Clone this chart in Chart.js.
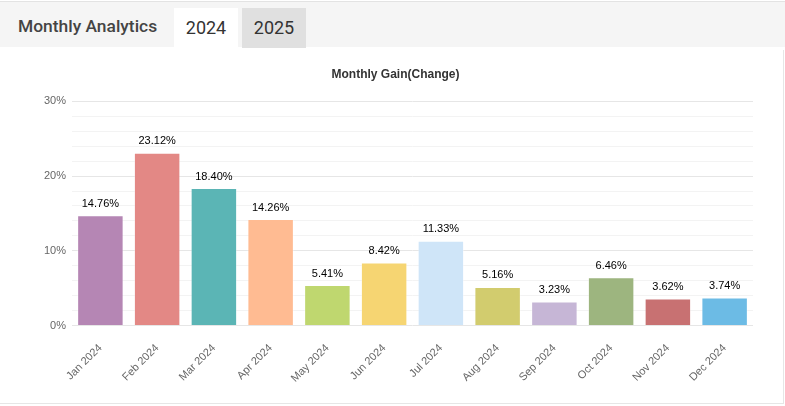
<!DOCTYPE html>
<html>
<head>
<meta charset="utf-8">
<script src="https://cdn.jsdelivr.net/npm/chart.js@4"></script>
<style>
  html, body { margin:0; padding:0; background:#fff; width:785px; height:406px; overflow:hidden; }
  #header { position:absolute; left:0; top:1px; width:785px; height:46px; background:#f5f5f5; border-top:1px solid #e3e3e3; box-sizing:border-box; font-family:Roboto, "Liberation Sans", sans-serif; }
  #title { position:absolute; left:18px; top:14px; font-size:17.4px; color:#444; font-weight:500; }
  .tab { position:absolute; top:6px; height:40px; width:64px; text-align:center; line-height:40px; font-size:18px; color:#333; }
  #t1 { left:174px; background:#fff; }
  #t2 { left:242px; background:#e0e0e0; }
  #box { position:absolute; left:0; top:50px; width:783px; height:353px; border-right:1px solid #e6e6e6; border-bottom:1px solid #e6e6e6; }
  #wrap { position:absolute; left:0; top:0; width:783px; height:353px; }
</style>
</head>
<body>
<div id="header">
  <div id="title">Monthly Analytics</div>
  <div class="tab" id="t1">2024</div>
  <div class="tab" id="t2">2025</div>
</div>
<div id="box"><div id="wrap"><canvas id="c"></canvas></div></div>
<script>
const categories = ["Jan 2024","Feb 2024","Mar 2024","Apr 2024","May 2024","Jun 2024","Jul 2024","Aug 2024","Sep 2024","Oct 2024","Nov 2024","Dec 2024"];
const gainValues = [14.76, 23.12, 18.40, 14.26, 5.41, 8.42, 11.33, 5.16, 3.23, 6.46, 3.62, 3.74];
const barColors = ["#b586b4","#e38885","#5bb5b5","#ffbb92","#bfd76f","#f6d572","#cfe5f8","#d2cc6e","#c6b6d6","#9db57f","#c87172","#6cbbe5"];
const yTickLabels = {0:"0%",10:"10%",20:"20%",30:"30%"};

const valueLabels = {
  id:'valueLabels',
  afterDatasetsDraw(chart){
    const ctx = chart.ctx;
    const meta = chart.getDatasetMeta(0);
    ctx.save();
    ctx.font = '11px "Liberation Sans", Arial, sans-serif';
    ctx.fillStyle = '#000';
    ctx.textAlign = 'center';
    ctx.textBaseline = 'bottom';
    meta.data.forEach((bar,i)=>{
      ctx.fillText(gainValues[i].toFixed(2)+'%', bar.x, bar.y - 6);
    });
    ctx.restore();
  }
};

new Chart(document.getElementById('c'), {
  type:'bar',
  data:{
    labels:categories,
    datasets:[{
      data:gainValues,
      backgroundColor:barColors,
      borderColor:'rgba(255,255,255,0.35)',
      borderWidth:1,
      categoryPercentage:0.9,
      barPercentage:0.91
    }]
  },
  options:{
    responsive:true,
    maintainAspectRatio:false,
    animation:false,
    layout:{padding:{left:38, right:30, top:11, bottom:2}},
    plugins:{
      legend:{display:false},
      tooltip:{enabled:false},
      title:{display:true, text:'Monthly Gain(Change)', color:'#333', font:{family:'"Liberation Sans", Arial, sans-serif', size:12, weight:'bold'}, padding:{top:6, bottom:20}}
    },
    scales:{
      x:{
        grid:{display:false, drawTicks:false},
        border:{display:false},
        ticks:{autoSkip:false, color:'#666', font:{family:'"Liberation Sans", Arial, sans-serif', size:11}, maxRotation:45, minRotation:45, padding:16}
      },
      y:{
        min:0, max:30,
        border:{display:false},
        grid:{drawTicks:false, color:(c)=> (c.tick && c.tick.value % 10 === 0) ? '#e6e6e6' : '#f3f3f3'},
        ticks:{autoSkip:false, stepSize:2, padding:6, color:'#666', font:{family:'"Liberation Sans", Arial, sans-serif', size:11},
          callback:(v)=> yTickLabels[v] !== undefined ? yTickLabels[v] : ''}
      }
    }
  },
  plugins:[valueLabels]
});
</script>
</body>
</html>
